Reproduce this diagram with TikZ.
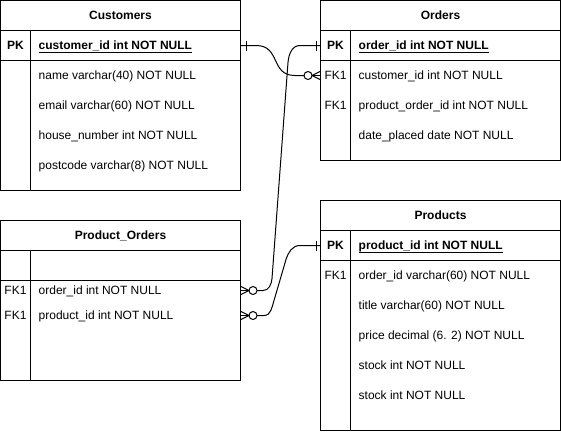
\documentclass[tikz,border=0pt]{standalone}
\usepackage{fontspec}
\setmainfont{Liberation Sans}
\usetikzlibrary{calc}
\newcommand{\pkfield}[1]{\setbox0\hbox{\bfseries #1}\rlap{\rule[-3pt]{\wd0}{1pt}}\box0}

\begin{document}
\begin{tikzpicture}[x=1pt, y=-1pt,
	every node/.style={inner sep=0pt, font=\fontsize{12}{14}\selectfont, text height=8.6pt, text depth=0pt},
	tbl/.style={draw=black, fill=white, line width=1pt},
	sep/.style={draw=black, line width=1pt},
	tbltitle/.style={font=\fontsize{12}{14}\selectfont\bfseries},
	keycell/.style={},
	pkcell/.style={font=\fontsize{12}{14}\selectfont\bfseries},
	fieldcell/.style={anchor=west},
	rel/.style={draw=black, line width=1pt}]
					\useasboundingbox (0,0) rectangle (561,431);
					\fill[white] (0,0) rectangle (561,431);
					
					\node[tbl, minimum width=240pt, minimum height=190pt] (cust) at (120.5,95.5){};
					\draw[sep] (0.5,30.5) -- (240.5,30.5);
					\draw[sep] (0.5,60.5) -- (240.5,60.5);
					\draw[sep] (30.5,30.5) -- (30.5,190.5);
					\node[tbltitle] (custt) at (120.5,15.5){Customers};
					\node[pkcell] (custk) at (15.5,45.5){PK};
					\node[fieldcell] (cpk) at (38.5,45.5){\pkfield{customer\_id int NOT NULL}};
					\node[fieldcell] (cname) at (38.5,75.5){name varchar(40) NOT NULL};
					\node[fieldcell] (cmail) at (38.5,105.5){email varchar(60) NOT NULL};
					\node[fieldcell] (chouse) at (38.5,135.5){house\_number int NOT NULL};
					\node[fieldcell] (cpost) at (38.5,165.5){postcode varchar(8) NOT NULL};
					
					\node[tbl, minimum width=240pt, minimum height=160pt] (ord) at (440.5,80.5){};
					\draw[sep] (320.5,30.5) -- (560.5,30.5);
					\draw[sep] (320.5,60.5) -- (560.5,60.5);
					\draw[sep] (350.5,30.5) -- (350.5,160.5);
					\node[tbltitle] (ordt) at (440.5,15.5){Orders};
					\node[pkcell] (ordk) at (335.5,45.5){PK};
					\node[keycell] (ordk1) at (335.5,75.5){FK1};
					\node[keycell] (ordk2) at (335.5,105.5){FK1};
					\node[fieldcell] (opk) at (358.5,45.5){\pkfield{order\_id int NOT NULL}};
					\node[fieldcell] (ocid) at (358.5,75.5){customer\_id int NOT NULL};
					\node[fieldcell] (opoid) at (358.5,105.5){product\_order\_id int NOT NULL};
					\node[fieldcell] (odate) at (358.5,135.5){date\_placed date NOT NULL};
					
					\node[tbl, minimum width=240pt, minimum height=160pt] (po) at (120.5,300.5){};
					\draw[sep] (0.5,250.5) -- (240.5,250.5);
					\draw[sep] (0.5,280.5) -- (240.5,280.5);
					\draw[sep] (30.5,250.5) -- (30.5,380.5);
					\node[tbltitle] (pot) at (120.5,235.5){Product\_Orders};
					\node[keycell] (pok1) at (15.5,290.5){FK1};
					\node[keycell] (pok2) at (15.5,315.5){FK1};
					\node[fieldcell] (pooid) at (38.5,290.5){order\_id int NOT NULL};
					\node[fieldcell] (popid) at (38.5,315.5){product\_id int NOT NULL};
					
					\node[tbl, minimum width=240pt, minimum height=230pt] (prod) at (440.5,315.5){};
					\draw[sep] (320.5,230.5) -- (560.5,230.5);
					\draw[sep] (320.5,260.5) -- (560.5,260.5);
					\draw[sep] (350.5,230.5) -- (350.5,430.5);
					\node[tbltitle] (prodt) at (440.5,215.5){Products};
					\node[pkcell] (prodk) at (335.5,245.5){PK};
					\node[keycell] (prodk1) at (335.5,275.5){FK1};
					\node[fieldcell] (ppk) at (358.5,245.5){\pkfield{product\_id int NOT NULL}};
					\node[fieldcell] (poid) at (358.5,275.5){order\_id varchar(60) NOT NULL};
					\node[fieldcell] (ptitle) at (358.5,305.5){title varchar(60) NOT NULL};
					\node[fieldcell] (pprice) at (358.5,335.5){price decimal (6. 2) NOT NULL};
					\node[fieldcell] (pstock) at (358.5,365.5){stock int NOT NULL};
					\node[fieldcell] (pstock2) at (358.5,395.5){stock int NOT NULL};
					
					\coordinate (r1s) at (cust.east |- cpk);
					\coordinate (r1e) at (ord.west |- ocid);
					\coordinate (r2s) at (po.east |- pooid);
					\coordinate (r2e) at (ord.west |- opk);
					\coordinate (r3s) at (po.east |- popid);
					\coordinate (r3e) at (prod.west |- ppk);
					
					\draw[rel] (r1s) -- ($(r1s)+(15,0)$) .. controls ($(r1s)+(40,0)$) and ($(r1e)+(-50,0)$) .. ($(r1e)+(-25,0)$) -- ($(r1e)+(-16,0)$);
					\draw[rel] ($(r1s)+(5,-5)$) -- ($(r1s)+(5,5)$);
					\draw[rel] (r1e) -- ($(r1e)+(-8,0)$);
					\draw[rel] ($(r1e)+(0,-4)$) -- ($(r1e)+(-8,0)$) -- ($(r1e)+(0,4)$);
					\draw[rel, fill=white] ($(r1e)+(-12,0)$) circle[radius=4pt];
					
					\draw[rel] ($(r2s)+(16,0)$) -- ($(r2s)+(22,0)$) to[out=0, in=-95] ($(r2s)+(31,-12)$) -- ($(r2e)+(-32,17)$) to[out=85, in=180] ($(r2e)+(-20,0)$) -- (r2e);
					\draw[rel] ($(r2e)+(-4,-5)$) -- ($(r2e)+(-4,5)$);
					\draw[rel] (r2s) -- ($(r2s)+(8,0)$);
					\draw[rel] ($(r2s)+(0,-4)$) -- ($(r2s)+(8,0)$) -- ($(r2s)+(0,4)$);
					\draw[rel, fill=white] ($(r2s)+(12,0)$) circle[radius=4pt];
					
					\draw[rel] ($(r3s)+(16,0)$) -- ($(r3s)+(23,0)$) to[out=0, in=-108] ($(r3s)+(33,-15)$) -- ($(r3e)+(-34,14)$) to[out=72, in=180] ($(r3e)+(-20,0)$) -- (r3e);
					\draw[rel] ($(r3e)+(-4,-5)$) -- ($(r3e)+(-4,5)$);
					\draw[rel] (r3s) -- ($(r3s)+(8,0)$);
					\draw[rel] ($(r3s)+(0,-4)$) -- ($(r3s)+(8,0)$) -- ($(r3s)+(0,4)$);
					\draw[rel, fill=white] ($(r3s)+(12,0)$) circle[radius=4pt];
\end{tikzpicture}
\end{document}
